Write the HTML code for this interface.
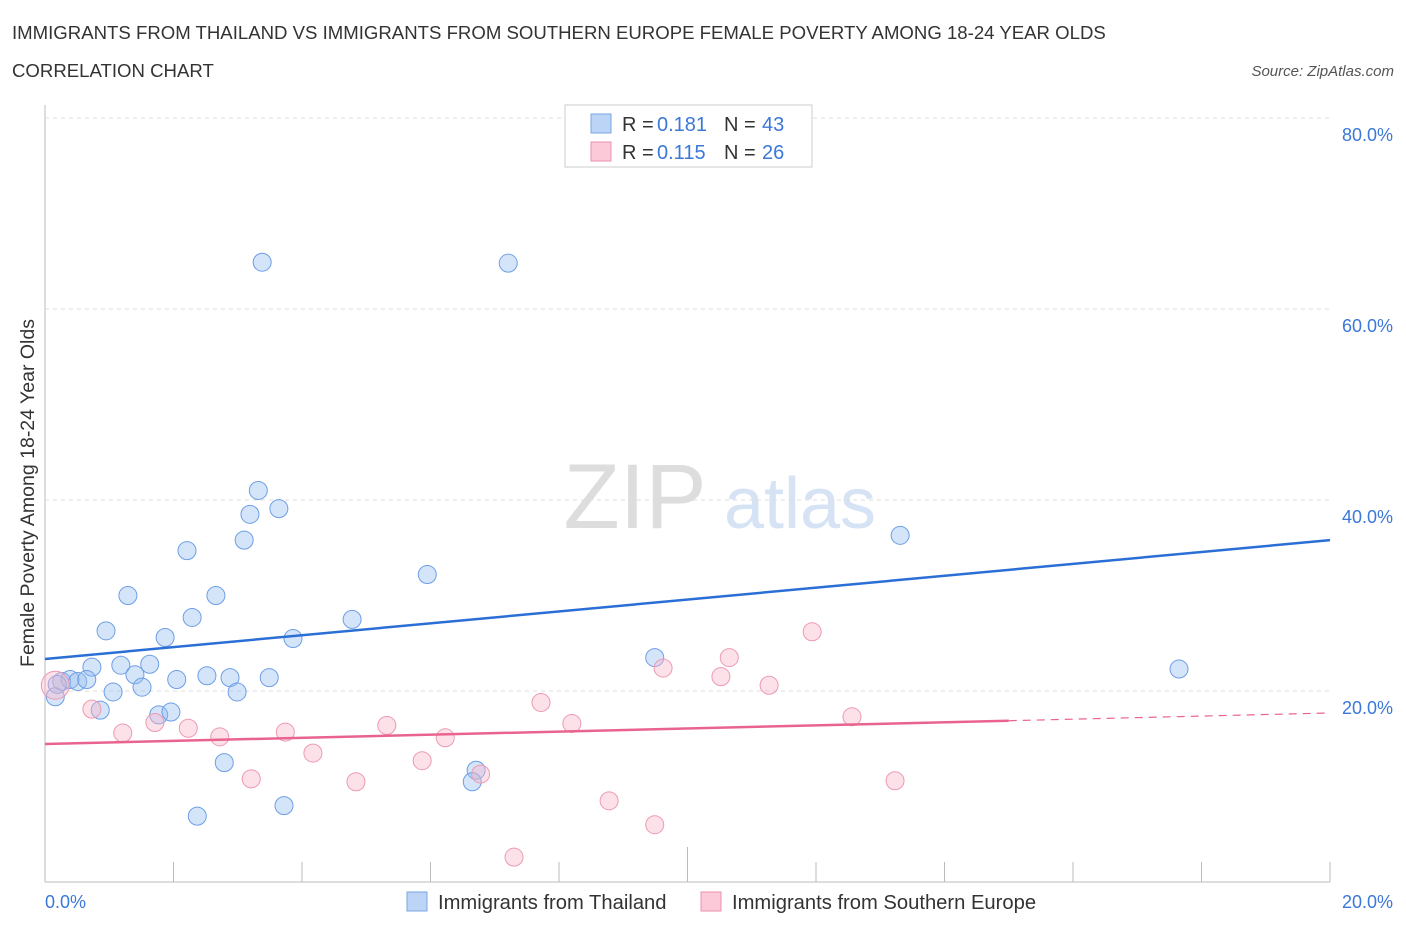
<!DOCTYPE html>
<html><head><meta charset="utf-8">
<style>
body{margin:0;background:#fff;font-family:"Liberation Sans",sans-serif;}
svg text{font-family:"Liberation Sans",sans-serif;}
</style></head>
<body>
<svg id="c" width="1406" height="930" xmlns="http://www.w3.org/2000/svg">
<text x="12" y="39" font-size="18.6" fill="#333">IMMIGRANTS FROM THAILAND VS IMMIGRANTS FROM SOUTHERN EUROPE FEMALE POVERTY AMONG 18-24 YEAR OLDS</text>
<text x="12" y="77" font-size="18.6" fill="#333">CORRELATION CHART</text>
<text x="1394" y="76" font-size="15" fill="#555" font-style="italic" text-anchor="end">Source: ZipAtlas.com</text>
<text x="635" y="528" font-size="92" fill="#ddd" font-family="Liberation Serif" text-anchor="middle">ZIP</text>
<text x="800" y="528" font-size="72" fill="#d5e3f5" text-anchor="middle">atlas</text>
<g id="grid"></g>
<g id="pts"></g>
<g id="lines"></g>
<text transform="translate(34,493) rotate(-90)" font-size="19.5" fill="#333" text-anchor="middle">Female Poverty Among 18-24 Year Olds</text>
<g>
<rect x="565" y="105" width="247" height="62" fill="#fff" stroke="#ccc"/>
<rect x="591" y="114" width="20" height="19" fill="#bcd4f5" stroke="#7aa6e6"/>
<rect x="591" y="142" width="20" height="19" fill="#fcc9d8" stroke="#eb92ae"/>
<text x="622" y="131" font-size="20" fill="#333">R =</text>
<text x="657" y="131" font-size="20" fill="#3b78d8">0.181</text>
<text x="724" y="131" font-size="20" fill="#333">N =</text>
<text x="762" y="131" font-size="20" fill="#3b78d8">43</text>
<text x="622" y="159" font-size="20" fill="#333">R =</text>
<text x="657" y="159" font-size="20" fill="#3b78d8">0.115</text>
<text x="724" y="159" font-size="20" fill="#333">N =</text>
<text x="762" y="159" font-size="20" fill="#3b78d8">26</text>
</g>
<g>
<rect x="407" y="892" width="20" height="19" fill="#bcd4f5" stroke="#7aa6e6"/>
<text x="438" y="909" font-size="20.2" fill="#333">Immigrants from Thailand</text>
<rect x="701" y="892" width="20" height="19" fill="#fcc9d8" stroke="#eb92ae"/>
<text x="732" y="909" font-size="20.2" fill="#333">Immigrants from Southern Europe</text>
</g>
</svg>
<script>
const yTicks=[20,40,60,80];
const yTickLabels=["20.0%","40.0%","60.0%","80.0%"];
const xTicks=[0,2,4,6,8,10,12,14,16,18,20];
const thaiX=[3.38,7.21,3.32,3.19,3.64,3.10,2.21,13.31,5.95,1.29,2.66,2.29,4.78,0.95,1.87,3.86,0.73,1.18,1.63,1.40,2.05,2.52,2.88,3.49,9.49,17.65,0.26,0.39,0.51,0.65,1.06,1.51,2.99,0.16,0.86,1.77,1.96,2.79,6.71,6.65,3.72,2.37,0.19];
const thaiY=[64.9,64.8,41.0,38.5,39.1,35.8,34.7,36.3,32.2,30.0,30.0,27.7,27.5,26.3,25.6,25.5,22.5,22.7,22.8,21.7,21.2,21.6,21.4,21.4,23.5,22.3,21.0,21.2,21.0,21.2,19.9,20.4,19.9,19.4,18.0,17.5,17.8,12.5,11.7,10.5,8.0,6.9,20.7];
const seX=[0.16,0.73,1.21,1.71,2.23,2.72,3.21,3.74,4.17,4.84,5.32,5.87,6.23,6.78,7.30,7.72,8.20,8.78,9.49,9.62,10.52,10.65,11.27,11.94,12.56,13.23];
const seY=[20.6,18.1,15.6,16.7,16.1,15.2,10.8,15.7,13.5,10.5,16.4,12.7,15.1,11.3,2.6,18.8,16.6,8.5,6.0,22.4,21.5,23.5,20.6,26.2,17.3,10.6];
const blueTrend=[23.35,35.8];
const pinkTrend=[14.45,17.7];
const X=v=>45+v/20*1285, Y=v=>882-v*9.55;
const NS="http://www.w3.org/2000/svg";
function mk(t,a,p){const e=document.createElementNS(NS,t);for(const k in a)e.setAttribute(k,a[k]);p.appendChild(e);return e;}
const grid=document.getElementById('grid'),pts=document.getElementById('pts'),lines=document.getElementById('lines');
const ya=mk('line',{x1:45,y1:105,x2:45,y2:882,stroke:'#bbb'},grid);


const xa=mk('line',{x1:45,y1:882,x2:1330,y2:882,stroke:'#bbb'},grid);


yTicks.forEach((t,i)=>{
 const g=mk('line',{x1:45,y1:Y(t),x2:1330,y2:Y(t),stroke:'#ddd','stroke-dasharray':'4,4'},grid);
 
 
 const tx=mk('text',{x:1393,y:Y(t)+23,'font-size':18,fill:'#3b78d8','text-anchor':'end'},grid);
 tx.textContent=yTickLabels[i];
 
 
});
xTicks.forEach((t,i)=>{
 if(i==0)return;
 const l=mk('line',{x1:X(t),y1:t==10?847:862,x2:X(t),y2:882,stroke:'#bbb'},grid);
 
 
});
let t0=mk('text',{x:45,y:908,'font-size':18,fill:'#3b78d8'},grid);t0.textContent='0.0%';


let t1=mk('text',{x:1393,y:908,'font-size':18,fill:'#3b78d8','text-anchor':'end'},grid);t1.textContent='20.0%';


thaiX.forEach((v,i)=>{
 const c=mk('circle',{cx:X(v),cy:Y(thaiY[i]),r:9,fill:'rgba(150,190,240,0.4)',stroke:'#6d9ee6','stroke-width':1},pts);
 
 
});
seX.forEach((v,i)=>{
 const c=mk('circle',{cx:X(v),cy:Y(seY[i]),r:i==0?14:9,fill:'rgba(250,180,200,0.4)',stroke:'#ec9ab4','stroke-width':1},pts);
 
 
});
const bl=mk('line',{x1:X(0),y1:Y(blueTrend[0]),x2:X(20),y2:Y(blueTrend[1]),stroke:'#2a6fd6','stroke-width':2.5},lines);


const xm=15, ym=pinkTrend[0]+(pinkTrend[1]-pinkTrend[0])*xm/20;
const pl=mk('line',{x1:X(0),y1:Y(pinkTrend[0]),x2:X(xm),y2:Y(ym),stroke:'#e8648f','stroke-width':2.5},lines);


const pd=mk('line',{x1:X(xm),y1:Y(ym),x2:X(20),y2:Y(pinkTrend[1]),stroke:'#e8648f','stroke-width':1.2,'stroke-dasharray':'8,6'},lines);


</script>
</body></html>
